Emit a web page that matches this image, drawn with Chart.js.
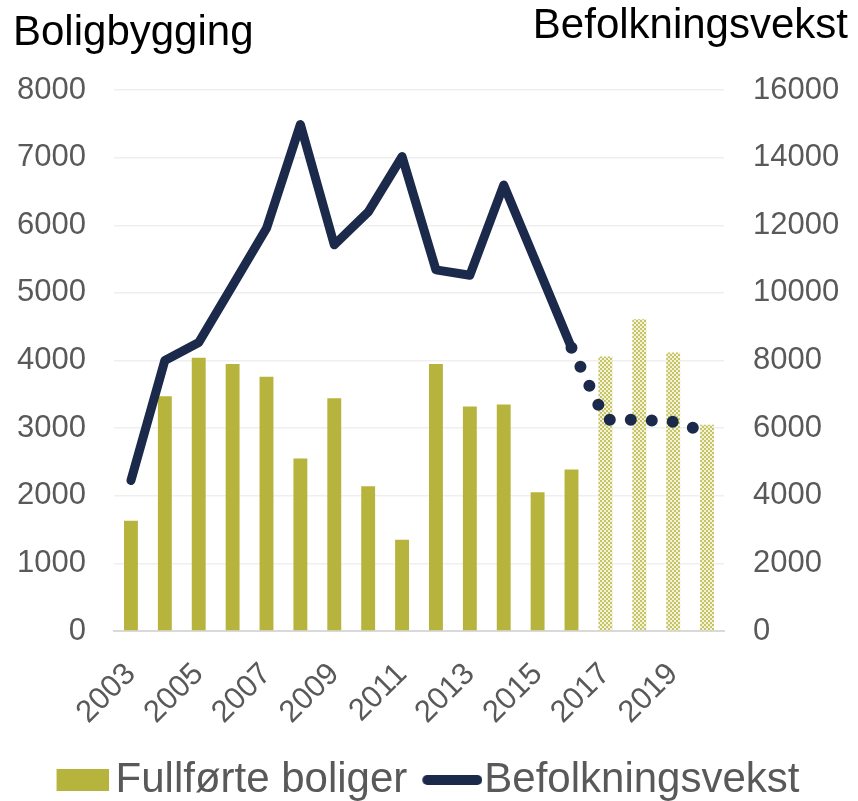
<!DOCTYPE html>
<html>
<head>
<meta charset="utf-8">
<script src="https://cdn.jsdelivr.net/npm/chart.js@4/dist/chart.umd.min.js"></script>
<style>
  html, body { margin: 0; padding: 0; background: #ffffff; }
  #wrap { width: 858px; height: 801px; position: relative; }
</style>
</head>
<body>
<div id="wrap"><canvas id="c" width="858" height="801"></canvas></div>
<script>
// ---- data ----
const years = ['2003','2004','2005','2006','2007','2008','2009','2010','2011','2012','2013','2014','2015','2016','2017','2018','2019','2020'];
const completedHomes = [1630, 3470, 4040, 3950, 3760, 2550, 3440, 2140, 1350, 3950, 3320, 3350, 2050, 2390, 4060, 4610, 4120, 3050];
const populationGrowth = [4450, 8000, 8530, 10220, 11910, 14980, 11420, 12390, 14030, 10680, 10520, 13190, 10790, 8380, 6250, 6250, 6190, 5880];
const forecastStart = '2017';
const leftTitle = 'Boligbygging';
const rightTitle = 'Befolkningsvekst';
const barLabel = 'Fullførte boliger';
const lineLabel = 'Befolkningsvekst';

// ---- styles ----
const OLIVE = '#B7B43D';
const NAVY = '#1B2A4A';
const GREY_TEXT = '#595959';
const FONT = "'Liberation Sans', Arial, sans-serif";
const forecastIdx = years.indexOf(forecastStart);

function checkerPattern() {
  const c = document.createElement('canvas');
  c.width = 4; c.height = 4;
  const g = c.getContext('2d');
  g.fillStyle = '#F3F2DA';
  g.fillRect(0, 0, 4, 4);
  g.fillStyle = '#C6C464';
  g.fillRect(0, 0, 2, 2);
  g.fillRect(2, 2, 2, 2);
  return g.createPattern(c, 'repeat');
}
const hatch = checkerPattern();
const barColors = years.map((y, i) => i >= forecastIdx ? hatch : OLIVE);

// legend marker images
function squareMarker() {
  const c = document.createElement('canvas');
  c.width = 66; c.height = 22;
  const g = c.getContext('2d');
  g.fillStyle = OLIVE;
  g.fillRect(14, 0, 52, 22);
  return c;
}
function lineMarker() {
  const c = document.createElement('canvas');
  c.width = 76; c.height = 12;
  const g = c.getContext('2d');
  g.strokeStyle = NAVY;
  g.lineWidth = 10;
  g.lineCap = 'round';
  g.beginPath();
  g.moveTo(21, 6);
  g.lineTo(71, 6);
  g.stroke();
  return c;
}
const sqImg = squareMarker();
const lnImg = lineMarker();

const titlePlugin = {
  id: 'sideTitles',
  afterDraw(chart) {
    const ctx = chart.ctx;
    ctx.save();
    ctx.fillStyle = '#000000';
    ctx.font = '42px ' + FONT;
    ctx.textBaseline = 'alphabetic';
    ctx.textAlign = 'left';
    ctx.fillText(leftTitle, 13, 45);
    ctx.textAlign = 'right';
    ctx.fillText(rightTitle, 848, 38);
    ctx.restore();
  }
};

const plainNumber = v => String(v);

new Chart(document.getElementById('c'), {
  data: {
    labels: years,
    datasets: [
      {
        type: 'line',
        label: lineLabel,
        data: populationGrowth,
        yAxisID: 'y1',
        order: 0,
        borderColor: NAVY,
        backgroundColor: NAVY,
        borderWidth: 9,
        borderCapStyle: 'round',
        borderJoinStyle: 'round',
        pointRadius: 0,
        pointHoverRadius: 0,
        tension: 0,
        fill: false,
        segment: {
          borderDash: ctx => ctx.p0DataIndex >= forecastIdx - 1 ? [0, 21] : undefined,
          borderWidth: ctx => ctx.p0DataIndex >= forecastIdx - 1 ? 12 : 9
        }
      },
      {
        type: 'bar',
        label: barLabel,
        data: completedHomes,
        yAxisID: 'y',
        order: 1,
        backgroundColor: barColors,
        borderWidth: 0,
        categoryPercentage: 1,
        barPercentage: 0.41
      }
    ]
  },
  options: {
    responsive: false,
    animation: false,
    devicePixelRatio: 1,
    layout: { padding: { left: 16, right: 18, top: 90, bottom: -10 } },
    plugins: {
      tooltip: { enabled: false },
      title: { display: false },
      legend: {
        display: true,
        position: 'bottom',
        labels: {
          usePointStyle: true,
          pointStyleWidth: 38,
          boxHeight: 22,
          padding: 18,
          color: GREY_TEXT,
          font: { family: FONT, size: 42 },
          generateLabels: () => [
            { text: barLabel, fillStyle: OLIVE, strokeStyle: OLIVE, lineWidth: 0, pointStyle: sqImg, datasetIndex: 1, fontColor: GREY_TEXT },
            { text: lineLabel, fillStyle: NAVY, strokeStyle: NAVY, lineWidth: 0, pointStyle: lnImg, datasetIndex: 0, fontColor: GREY_TEXT }
          ]
        }
      }
    },
    scales: {
      x: {
        type: 'category',
        offset: true,
        afterFit: s => { s.height = 110; },
        grid: { display: false, drawTicks: false },
        border: { display: true, color: '#D9D9D9', width: 2 },
        ticks: {
          autoSkip: false,
          maxRotation: 45,
          minRotation: 45,
          padding: 25,
          color: GREY_TEXT,
          font: { family: FONT, size: 31 },
          callback: function (v, i) { return i % 2 === 0 ? this.getLabelForValue(v) : ''; }
        }
      },
      y: {
        position: 'left',
        min: 0, max: 8000,
        afterFit: s => { s.width = 98; },
        grid: { color: '#EFEFEF', lineWidth: 1.5, drawTicks: false },
        border: { display: false },
        ticks: {
          stepSize: 1000,
          padding: 28,
          color: GREY_TEXT,
          font: { family: FONT, size: 31 },
          callback: plainNumber
        }
      },
      y1: {
        position: 'right',
        min: 0, max: 16000,
        afterFit: s => { s.width = 116; },
        grid: { display: false, drawTicks: false },
        border: { display: false },
        ticks: {
          stepSize: 2000,
          padding: 29,
          color: GREY_TEXT,
          font: { family: FONT, size: 31 },
          callback: plainNumber
        }
      }
    }
  },
  plugins: [titlePlugin]
});
</script>
</body>
</html>
